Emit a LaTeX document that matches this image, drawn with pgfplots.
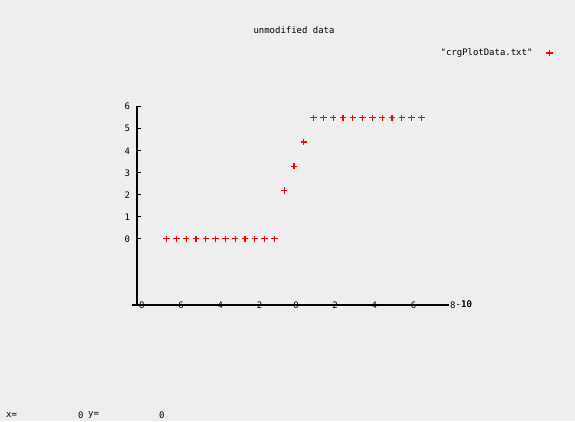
\documentclass[border=0pt]{standalone}
\usepackage{pgfplots}
\pgfplotsset{compat=1.18}
\usepackage{fontspec}
\setmainfont[Ligatures=NoCommon]{DejaVu Sans Mono}
\definecolor{bgc}{HTML}{EEEEEE}
\begin{document}
\begin{tikzpicture}[x=1bp,y=1bp]
\fill[bgc] (0,0) rectangle (575,421);
\path[use as bounding box] (0,0) rectangle (575,421);
\begin{axis}[
  at={(137.2bp,116.1bp)}, anchor=south west,
  scale only axis, width=325.4bp, height=198.6bp,
  xmin=-8.1, xmax=8.5, ymin=-3, ymax=6.02,
  axis line style={draw=none},
  clip=false,
  font=\fontsize{9}{10}\selectfont,
  /pgf/number format/assume math mode=true,
  xtick={-8,-6,...,8},
  xtick style={draw=none},
  xtick pos=bottom,
  xticklabel style={anchor=center, inner sep=0pt},
  ytick={0,1,...,6},
  ytick pos=left,
  tick align=inside,
  major tick length=4bp,
  ytick style={black, line width=1.2bp},
  yticklabel style={anchor=east, inner sep=0pt, xshift=-7bp},
  legend plot pos=right,
  legend style={at={(axis description cs:1.287,1.268)}, anchor=east, draw=none, fill=none, font=\fontsize{9}{10}\selectfont, /tikz/every odd column/.append style={column sep=12bp}},
]
\addplot[only marks, mark=+, mark size=3.2bp, color=red, mark options={draw=red, line width=1.2bp}] table {
x y
-6.6 0
-6.1 0
-5.6 0
-5.1 0
-4.6 0
-4.1 0
-3.6 0
-3.1 0
-2.6 0
-2.1 0
-1.6 0
-1.1 0
-0.6 2.2
-0.1 3.3
0.4 4.4
0.9 5.5
1.4 5.5
1.9 5.5
2.4 5.5
2.9 5.5
3.4 5.5
3.9 5.5
4.4 5.5
4.9 5.5
5.4 5.5
5.9 5.5
6.4 5.5
};
\addlegendentry{\textquotedbl crgPlotData.txt\textquotedbl}
\draw[line width=1.6bp] (axis cs:-8.37,-3) -- (axis cs:7.8,-3);
\draw[line width=1.6bp] (axis cs:-8.1,-3) -- (axis cs:-8.1,6.02);
\end{axis}
\node[anchor=west, inner sep=0pt, font=\fontsize{9}{10}\selectfont] at (455.5,116.5) {-10};
\node[anchor=west, inner sep=0pt, font=\fontsize{9}{10}\selectfont] at (461,116.5) {10};
\node[font=\fontsize{9}{10}\selectfont] at (294,391) {unmodified data};
\node[anchor=west, inner sep=0pt, font=\fontsize{9}{10}\selectfont] at (6,6) {x=};
\node[anchor=west, inner sep=0pt, font=\fontsize{9}{10}\selectfont] at (78,6) {0};
\node[anchor=west, inner sep=0pt, font=\fontsize{9}{10}\selectfont] at (88,6) {y=};
\node[anchor=west, inner sep=0pt, font=\fontsize{9}{10}\selectfont] at (159,6) {0};
\end{tikzpicture}
\end{document}
